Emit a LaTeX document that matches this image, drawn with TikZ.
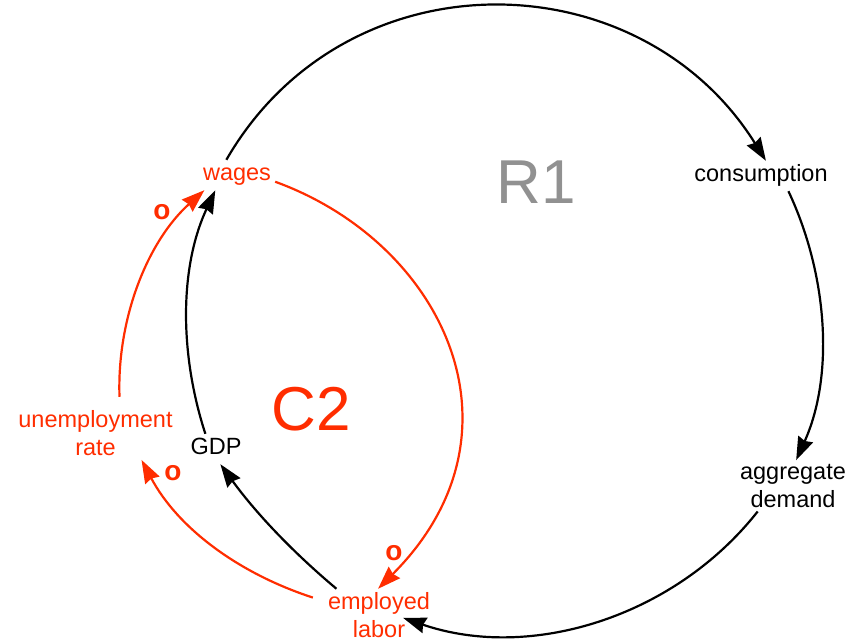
\documentclass[tikz,border=0pt]{standalone}
\usepackage{fontspec}
\setmainfont{Liberation Sans}
\usetikzlibrary{arrows.meta}
\definecolor{cldred}{RGB}{255,45,0}
\definecolor{cldgray}{RGB}{145,145,145}
\begin{document}
\begin{tikzpicture}[x=1pt,y=1pt,
  lbl/.style={font=\fontsize{23.5}{27.5}\selectfont, inner sep=4pt, align=center},
  one/.style={lbl, text height=17pt, text depth=5pt},
  big/.style={font=\fontsize{62}{62}\selectfont, inner sep=0pt},
  pol/.style={font=\fontsize{28}{28}\selectfont\bfseries, text=cldred, inner sep=0pt},
  link/.style={line width=2.2pt, -{Stealth[length=23pt,width=16pt,inset=2pt]}},
  blk/.style={link, draw=black},
  rd/.style={link, draw=cldred},
]
\useasboundingbox (0,0) rectangle (857,643);
% nodes
\node[one, text=cldred] (wages) at (237,468) {wages};
\node[one] (consumption) at (761,467) {consumption};
\node[lbl] (aggdem) at (793,157.2) {aggregate\\demand};
\node[lbl, text=cldred] (employed) at (379,27.65) {employed\\labor};
\node[one] (gdp) at (216,194) {GDP};
\node[lbl, text=cldred] (unemp) at (95.5,209.65) {unemployment\\rate};
\node[big, text=cldgray] (r1) at (536.5,461) {R1};
\node[big, text=cldred] (c2) at (311.5,233.5) {C2};
\node[pol] (o1) at (162,431) {o};
\node[pol] (o2) at (173,170) {o};
\node[pol] (o3) at (394,90) {o};
% black loop R1
\draw[blk] (wages.125) .. controls +(60:239pt) and +(122:239pt) .. (consumption.72);
\draw[blk] (consumption.-29) .. controls +(-64.8:92.6pt) and +(65.7:92.6pt) .. (aggdem.83);
\draw[blk] (aggdem.216) .. controls +(-128.2:134.5pt) and +(-18.9:134.5pt) .. ([shift={(-31pt,24pt)}]employed.south east);
\draw[blk] (employed.148) .. controls +(140:59pt) and +(-54:59pt) .. (gdp.-74);
\draw[blk] (gdp.125) .. controls +(108:84.6pt) and +(245:84.6pt) .. (wages.215);
% red loop C2
\draw[rd] ([shift={(-11pt,3pt)}]employed.165) .. controls +(162:77.6pt) and +(-62:77.6pt) .. (unemp.-30);
\draw[rd] ([shift={(24pt,10pt)}]unemp.north) .. controls +(92:77.3pt) and +(222:77.3pt) .. (wages.205);
\draw[rd] (wages.-10) .. controls +(-20:180pt) and +(45:220pt) .. (employed.92);
\end{tikzpicture}
\end{document}
